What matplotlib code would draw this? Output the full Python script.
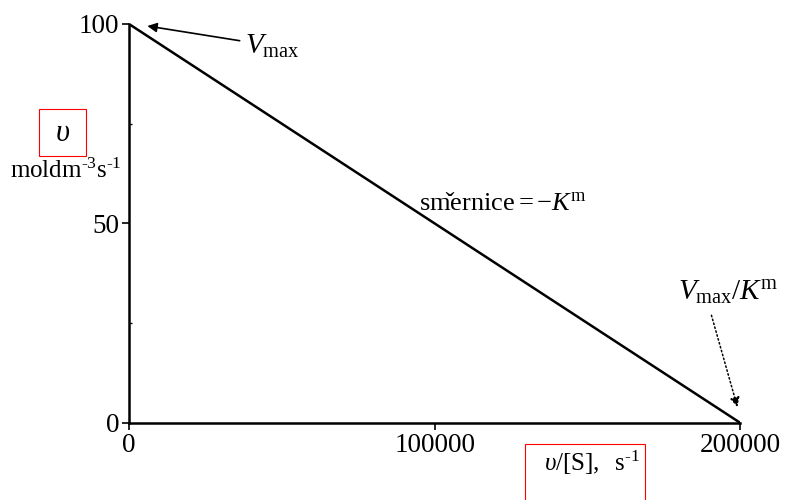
import matplotlib.pyplot as plt
from matplotlib.patches import Rectangle

plt.rcParams['font.family'] = ['Liberation Serif', 'DejaVu Serif']
plt.rcParams['mathtext.fontset'] = 'custom'
plt.rcParams['mathtext.rm'] = 'Liberation Serif'
plt.rcParams['mathtext.it'] = 'Liberation Serif:italic'

# Eadie-Hofstee line: rate v against v/[S]
v_over_s = [0, 200000]
rate = [100, 0]
x_ticks = [0, 100000, 200000]
y_ticks = [0, 50, 100]
y_minor = [25, 75]

fig = plt.figure(figsize=(7.89, 5.0), dpi=100)
ax = fig.add_axes([0.1635, 0.154, 0.775, 0.798])

ax.plot(v_over_s, rate, color='black', lw=1.8)

ax.set_xlim(0, 200000)
ax.set_ylim(0, 100)
for side in ('top', 'right'):
    ax.spines[side].set_visible(False)
for side in ('left', 'bottom'):
    ax.spines[side].set_linewidth(1.8)
    ax.spines[side].set_clip_on(False)

ax.set_xticks(x_ticks)
ax.set_xticklabels([str(t) for t in x_ticks])
ax.set_yticks(y_ticks)
ax.set_yticklabels([str(t) for t in y_ticks])
ax.set_yticks(y_minor, minor=True)
ax.tick_params(axis='both', labelsize=19.5, width=1.2, length=5, pad=2)
ax.tick_params(axis='y', which='minor', direction='in', length=2, width=1)

# axis labels
fig.text(0.079, 0.733, r'$\mathit{\upsilon}$', fontsize=22, ha='center', va='center')
fig.add_artist(Rectangle((0.050, 0.688), 0.059, 0.094, transform=fig.transFigure,
                         fill=False, edgecolor='red', lw=0.8))
fig.text(0.013, 0.658, '$\\mathrm{moldm}^{\\mathrm{\u20103}}\\mathrm{s}^{\\mathrm{\u20101}}$',
         fontsize=18, ha='left', va='center')

fig.text(0.750, 0.074, '$\\mathit{\\upsilon}\\mathrm{/[S],}\\ \\ \\mathrm{s}^{\\mathrm{\u20101}}$',
         fontsize=18, ha='center', va='center')
fig.add_artist(Rectangle((0.665, -0.01), 0.153, 0.122, transform=fig.transFigure,
                         fill=False, edgecolor='red', lw=0.8))

# annotations
ax.annotate(r'$V_{\mathrm{max}}$', xy=(6000, 99.5), xytext=(38000, 94.5),
            fontsize=21, ha='left', va='center',
            arrowprops=dict(arrowstyle='-|>', color='black', lw=1.2,
                            mutation_scale=14, shrinkA=2, shrinkB=0))
ax.text(95000, 55, r'$\mathrm{sm\check{e}rnice} = \mathrm{-}K^{\mathrm{m}}$',
        fontsize=19, ha='left', va='center')
ax.text(196000, 32.5, r'$V_{\mathrm{max}}/K^{\mathrm{m}}$',
        fontsize=21, ha='center', va='center')
ax.annotate('', xy=(199000, 4.0), xytext=(190500, 27.0),
            arrowprops=dict(arrowstyle='-|>', color='black', lw=1.1, ls=':',
                            mutation_scale=14, shrinkA=0, shrinkB=0))

fig.savefig('out.png', dpi=100)
